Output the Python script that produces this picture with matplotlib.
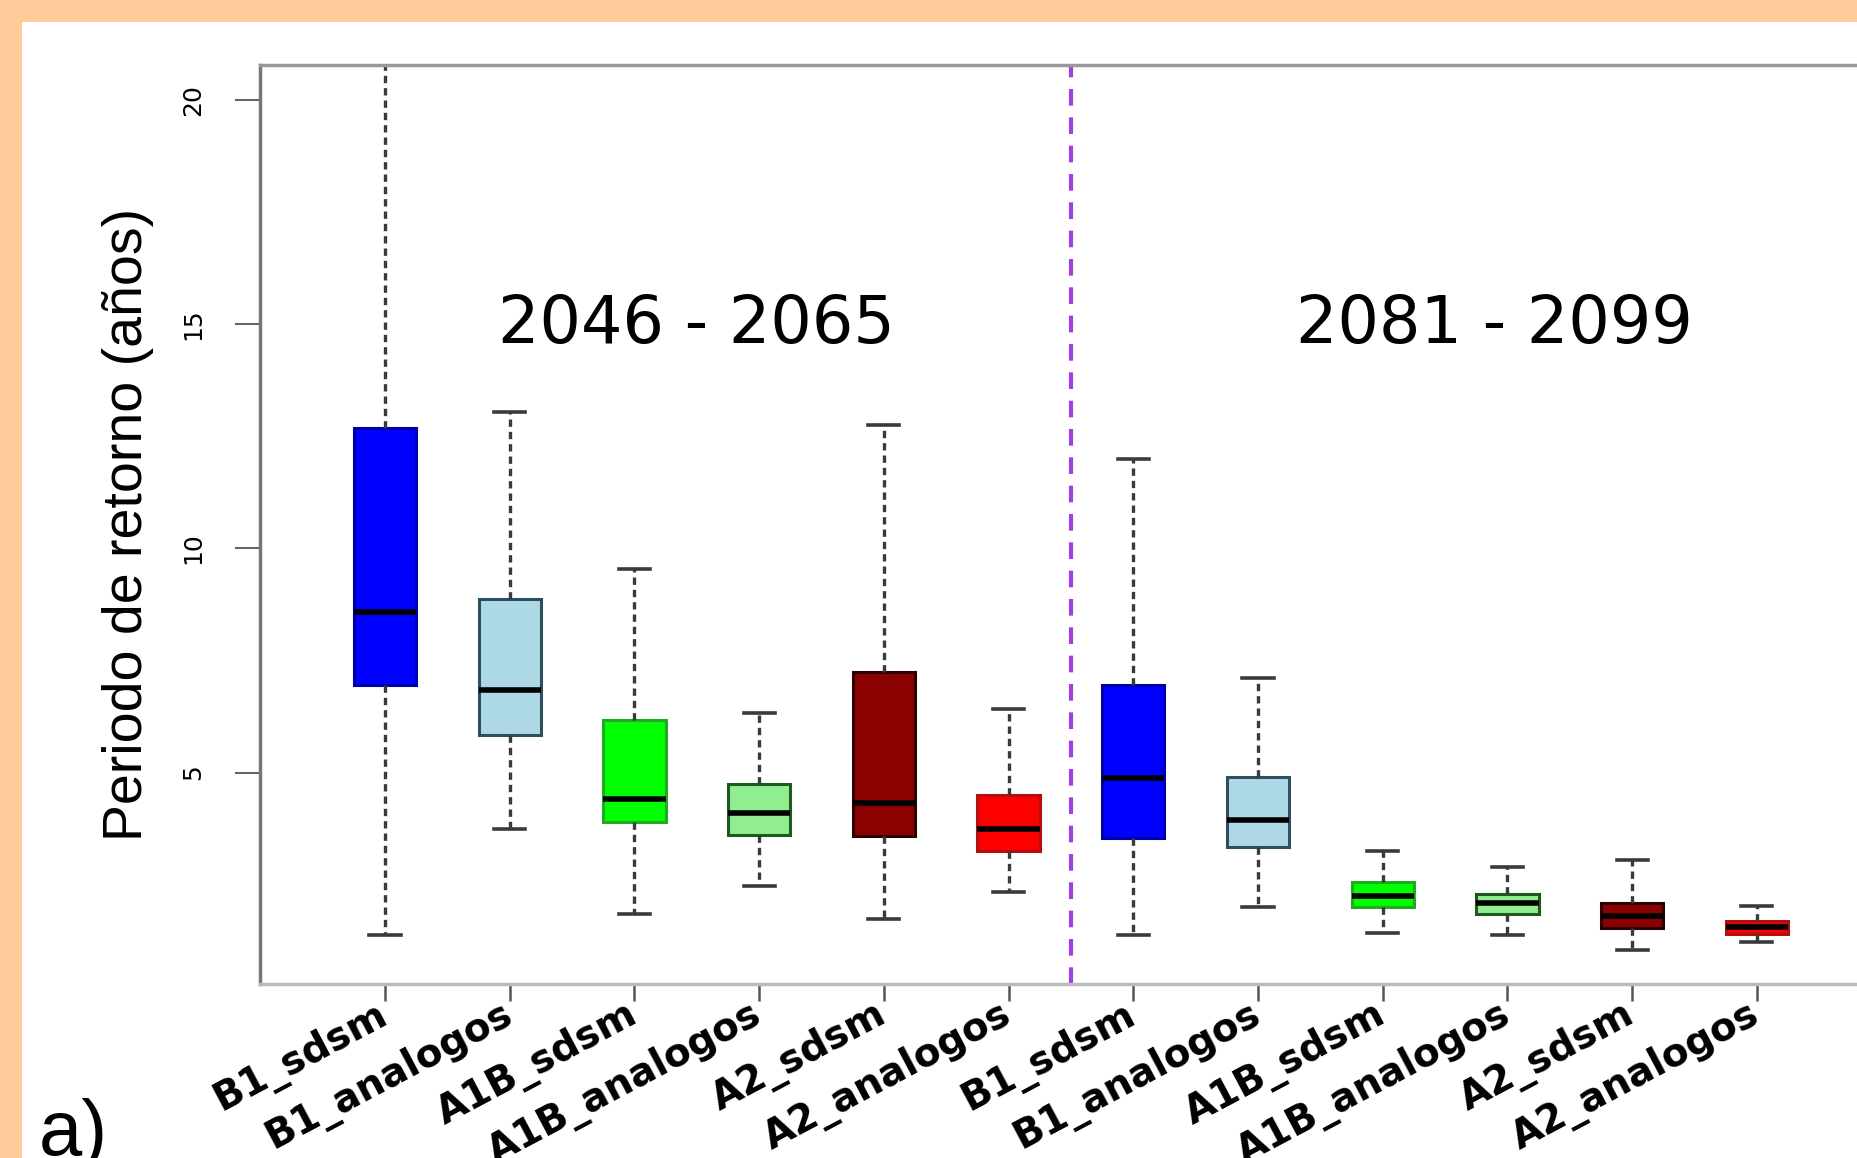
import matplotlib
matplotlib.use('Agg')
import matplotlib.pyplot as plt
from matplotlib.patches import Rectangle

# Datos (periodo de retorno en años)
etiquetas = ['B1_sdsm', 'B1_analogos', 'A1B_sdsm', 'A1B_analogos', 'A2_sdsm', 'A2_analogos',
             'B1_sdsm', 'B1_analogos', 'A1B_sdsm', 'A1B_analogos', 'A2_sdsm', 'A2_analogos']
bigote_inf = [1.37, 3.74, 1.84, 2.47, 1.74, 2.34, 1.37, 2.00, 1.42, 1.37, 1.05, 1.21]
q1 = [6.95, 5.84, 3.89, 3.60, 3.58, 3.26, 3.55, 3.34, 2.00, 1.84, 1.53, 1.39]
mediana = [8.58, 6.84, 4.42, 4.10, 4.32, 3.74, 4.87, 3.95, 2.24, 2.08, 1.79, 1.55]
q3 = [12.68, 8.87, 6.18, 4.74, 7.24, 4.50, 6.95, 4.89, 2.55, 2.29, 2.10, 1.68]
bigote_sup = [22.0, 13.05, 9.55, 6.32, 12.74, 6.42, 12.00, 7.10, 3.26, 2.89, 3.05, 2.03]

colores = ['#0000FF', '#ADD8E6', '#00FF00', '#90EE90', '#8B0000', '#FF0000'] * 2
bordes = ['#0000AA', '#2F4F5F', '#22AA22', '#1E5A1E', '#2A0000', '#B01010'] * 2

periodos = ['2046 - 2065', '2081 - 2099']
periodos_x = [3.5, 9.9]
periodos_y = [14.58, 14.58]

# Figura con el borde naranja arriba y a la izquierda
fig = plt.figure(figsize=(18.57, 11.58), dpi=100, facecolor='#FFCC99')
fondo = Rectangle((22 / 1857, 0), 1, 1 - 22 / 1158, transform=fig.transFigure,
                  facecolor='white', edgecolor='none', zorder=-10)
fig.add_artist(fondo)

ax = fig.add_axes([0.1402, 0.1503, 0.873, 0.7936])

stats = []
for i in range(len(etiquetas)):
    stats.append(dict(label=etiquetas[i], whislo=bigote_inf[i], q1=q1[i], med=mediana[i],
                      q3=q3[i], whishi=bigote_sup[i], fliers=[]))

cajas = ax.bxp(stats, positions=range(1, len(stats) + 1), widths=0.5, capwidths=0.25,
               patch_artist=True, showfliers=False, manage_ticks=False,
               whiskerprops=dict(color='#3a3a3a', linewidth=2.4, linestyle=(0, (2.2, 1.5))),
               capprops=dict(color='#3a3a3a', linewidth=2.6),
               medianprops=dict(color='black', linewidth=4),
               boxprops=dict(linewidth=2.2))

for caja, c, b in zip(cajas['boxes'], colores, bordes):
    caja.set_facecolor(c)
    caja.set_edgecolor(b)

# Linea divisoria entre periodos
ax.axvline(6.5, color='#A040E0', linewidth=3, linestyle=(0, (4, 2.8)))

for txt, x, y in zip(periodos, periodos_x, periodos_y):
    ax.text(x, y, txt, ha='center', va='baseline', fontsize=47, family='DejaVu Sans')

ax.set_xlim(0, 13)
ax.set_ylim(0.285, 20.78)

ax.set_yticks([5, 10, 15, 20])
ax.set_yticklabels(['5', '10', '15', '20'], rotation=90, va='center', fontsize=18)
ax.tick_params(axis='y', length=18, width=1.5, color='#666666', pad=22)

ax.set_xticks(range(1, len(etiquetas) + 1))
ax.set_xticklabels(etiquetas, rotation=28, ha='right', va='center', rotation_mode='anchor',
                   fontsize=28, fontweight='bold')
ax.tick_params(axis='x', length=12, width=1.8, color='#555555', pad=8)

ax.set_ylabel('Periodo de retorno (años)', fontsize=40, family='Liberation Sans')
ax.yaxis.set_label_coords(-0.0654, 0.5)

ax.spines['left'].set_color('#777777')
ax.spines['top'].set_color('#999999')
ax.spines['right'].set_color('#999999')
ax.spines['bottom'].set_color('#BBBBBB')
for s in ax.spines.values():
    s.set_linewidth(2.5)

fig.text(0.021, 0.0025, 'a)', fontsize=56, family='Liberation Sans', va='baseline')

fig.savefig('out.png', dpi=100, facecolor=fig.get_facecolor())
